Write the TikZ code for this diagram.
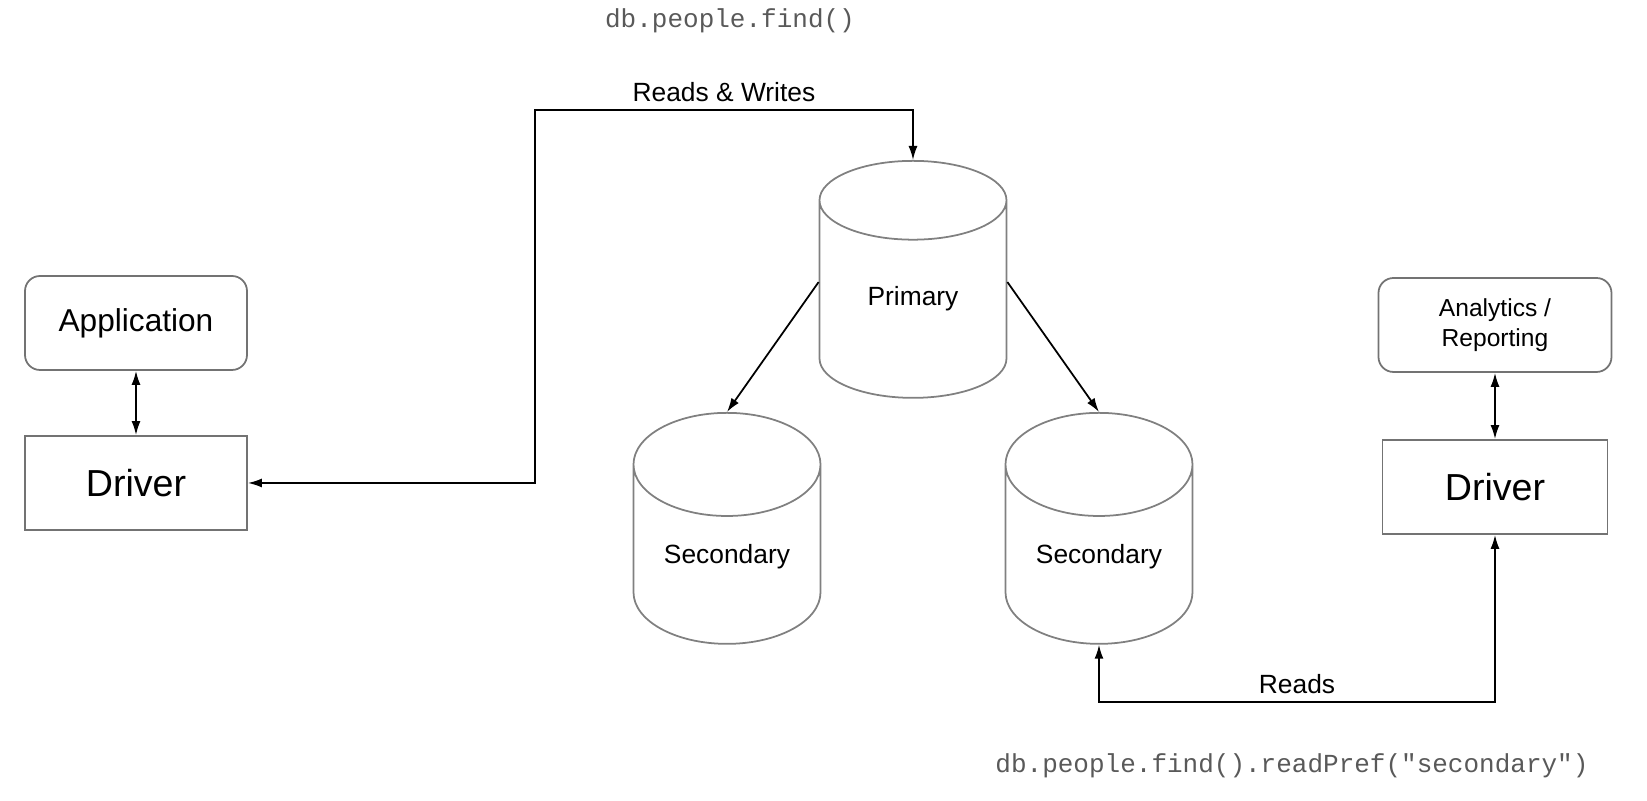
\documentclass[tikz,border=0pt]{standalone}
\usepackage{fontspec}
\setmainfont{Liberation Sans}
\setmonofont{Liberation Mono}
\usetikzlibrary{arrows.meta, positioning, shapes.geometric, calc}

\begin{document}
\begin{tikzpicture}[
    >={Latex[length=1.4mm, width=0.9mm]},
    box/.style={
        draw=black!55, line width=0.5pt,
        minimum width=2.22cm, minimum height=0.94cm, align=center, inner sep=2pt
    },
    appbox/.style={box, rounded corners=0.15cm, font=\fontsize{9}{10}\selectfont},
    drvbox/.style={box, font=\fontsize{10.7}{12}\selectfont},
    db/.style={
        cylinder, shape border rotate=90, aspect=0.69, anchor=north,
        draw=black!50, line width=0.5pt, text depth=0.26cm,
        minimum width=1.87cm, minimum height=2.35cm, font=\fontsize{7.5}{9}\selectfont
    },
    link/.style={<->, line width=0.5pt},
    sync/.style={->, line width=0.5pt},
    lbl/.style={font=\fontsize{7.5}{9}\selectfont, above, inner sep=2pt},
    query/.style={font=\ttfamily\fontsize{7.4}{9}\selectfont, text=black!65},
]
\useasboundingbox (0,0) rectangle (16.47,-8.01);

% ── Client side ──
\node[appbox] (app)  at (1.36,-3.23) {Application};
\node[drvbox] (drvL) at (1.36,-4.83) {Driver};
\node[appbox, minimum width=2.33cm, font=\fontsize{7}{8.5}\selectfont] (ana) at (14.95,-3.25) {Analytics /\\Reporting};
\node[drvbox, minimum width=2.25cm] (drvR) at (14.95,-4.87) {Driver};

% ── Replica set ──
\node[db, minimum height=2.37cm] (prim) at (9.13,-1.60) {Primary};
\node[db, minimum height=2.31cm] (sec1) at (7.27,-4.12) {Secondary};
\node[db, minimum height=2.31cm] (sec2) at (10.99,-4.12) {Secondary};

% ── Queries ──
\node[query] (qfind) at (7.30,-0.21) {db.people.find()};
\node[query] (qread) at (12.92,-7.66) {db.people.find().readPref("secondary")};

% ── Connectors ──
\draw[link] (app) -- (drvL);
\draw[link] (ana) -- (drvR);
\draw[link] (drvL.east) -- ++(2.87,0) -- ++(0,3.73)
    -| node[lbl, pos=0.25] {Reads \& Writes} (prim.north);
\draw[link] (sec2.south) -- ++(0,-0.57)
    -| node[lbl, pos=0.25] {Reads} (drvR.south);
\draw[sync] ($(prim.west)+(0,0.27)$) -- (sec1.north);
\draw[sync] ($(prim.east)+(0,0.27)$) -- (sec2.north);

\end{tikzpicture}
\end{document}
